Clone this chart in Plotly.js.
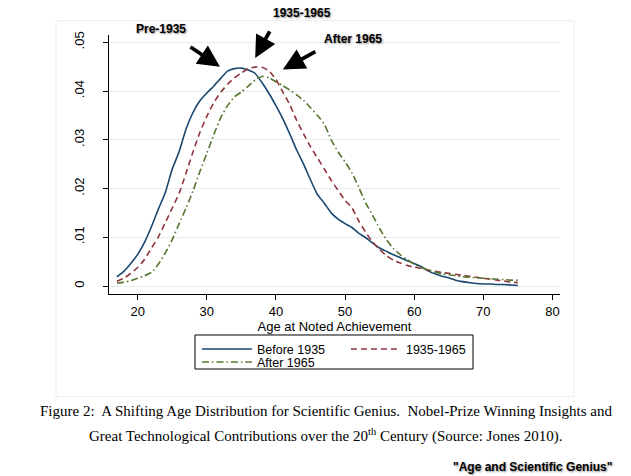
<!DOCTYPE html>
<html>
<head>
<meta charset="utf-8">
<script src="https://cdn.plot.ly/plotly-3.0.1.min.js"></script>
<style>
  html, body { margin: 0; padding: 0; background: #fff; }
  #chart { width: 631px; height: 476px; }
</style>
</head>
<body>
<div id="chart"></div>
<script>
    // --- DATA: density of age at noted achievement, by period ---
    const ages = [17, 18, 19, 20, 21, 22, 23, 24, 25, 26, 27, 28, 29, 30, 31, 32, 33, 34, 35, 36,
                  37, 38, 39, 40, 41, 42, 43, 44, 45, 46, 47, 48, 49, 50, 51, 52, 53, 54, 55, 56,
                  57, 58, 59, 60, 61, 62, 63, 64, 65, 66, 67, 68, 69, 70, 71, 72, 73, 74, 75];

    const before1935 = [0.0019, 0.0030, 0.0046, 0.0065, 0.0090, 0.0122, 0.0158, 0.0192, 0.0240, 0.0276,
                        0.0322, 0.0356, 0.0380, 0.0396, 0.0410, 0.0426, 0.0441, 0.0446, 0.0447, 0.0443,
                        0.0436, 0.0417, 0.0395, 0.0370, 0.0343, 0.0312, 0.0279, 0.0250, 0.0218, 0.0188,
                        0.0170, 0.0150, 0.0137, 0.0128, 0.0120, 0.0108, 0.0099, 0.0088, 0.0078, 0.0071,
                        0.0064, 0.0058, 0.0052, 0.0046, 0.0040, 0.0031, 0.0025, 0.0020, 0.0017, 0.0012,
                        0.0009, 0.0007, 0.0005, 0.0004, 0.0004, 0.0003, 0.0003, 0.0002, 0.0001];

    const from1935to1965 = [0.0010, 0.0016, 0.0026, 0.0038, 0.0055, 0.0078, 0.0101, 0.0130, 0.0160, 0.0190,
                            0.0232, 0.0275, 0.0315, 0.0348, 0.0376, 0.0397, 0.0414, 0.0427, 0.0437, 0.0446,
                            0.0449, 0.0449, 0.0441, 0.0424, 0.0398, 0.0372, 0.0340, 0.0312, 0.0286, 0.0263,
                            0.0240, 0.0217, 0.0196, 0.0176, 0.0160, 0.0133, 0.0110, 0.0090, 0.0075, 0.0062,
                            0.0053, 0.0047, 0.0042, 0.0039, 0.0036, 0.0033, 0.0030, 0.0028, 0.0026, 0.0024,
                            0.0022, 0.0020, 0.0018, 0.0016, 0.0014, 0.0012, 0.0010, 0.0008, 0.0007];

    const after1965 = [0.0006, 0.0008, 0.0011, 0.0016, 0.0021, 0.0028, 0.0045, 0.0068, 0.0095, 0.0128,
                       0.0160, 0.0195, 0.0235, 0.0272, 0.0310, 0.0345, 0.0370, 0.0388, 0.0398, 0.0410,
                       0.0423, 0.0430, 0.0427, 0.0419, 0.0411, 0.0402, 0.0392, 0.0381, 0.0366, 0.0350,
                       0.0332, 0.0300, 0.0275, 0.0255, 0.0232, 0.0202, 0.0170, 0.0145, 0.0118, 0.0095,
                       0.0077, 0.0064, 0.0054, 0.0045, 0.0038, 0.0033, 0.0029, 0.0025, 0.0023, 0.0021,
                       0.0019, 0.0018, 0.0017, 0.0016, 0.0015, 0.0014, 0.0013, 0.0012, 0.0012];

    const xTicks = [20, 30, 40, 50, 60, 70, 80];
    const yTicks = [0, 0.01, 0.02, 0.03, 0.04, 0.05];
    const yTickText = ['0', '.01', '.02', '.03', '.04', '.05'];

    const SANS = 'Liberation Sans, Arial, Helvetica, sans-serif';
    const SERIF = 'Liberation Serif, Times New Roman, serif';
    const SHADOW = '1px 1px 2px rgba(0,0,0,0.45)';

    // --- TRACES ---
    const traces = [
        {
            type: 'scatter', mode: 'lines', name: 'Before 1935',
            x: ages, y: before1935,
            line: { color: '#1a476f', width: 1.6, shape: 'spline', smoothing: 0.6 },
            legend: 'legend', hoverinfo: 'skip'
        },
        {
            type: 'scatter', mode: 'lines', name: '1935-1965',
            x: ages, y: from1935to1965,
            line: { color: '#90353b', width: 1.6, dash: '6px,4px', shape: 'spline', smoothing: 0.6 },
            legend: 'legend', hoverinfo: 'skip'
        },
        {
            type: 'scatter', mode: 'lines', name: 'After 1965',
            x: ages, y: after1965,
            line: { color: '#55752f', width: 1.6, dash: '7px,3px,1.5px,3px', shape: 'spline', smoothing: 0.6 },
            legend: 'legend2', hoverinfo: 'skip'
        }
    ];

    // --- ANNOTATIONS: period labels, arrows, caption ---
    function label(text, x, y) {
        return {
            xref: 'paper', yref: 'paper', x: x, y: y, text: '<b>' + text + '</b>',
            showarrow: false, xanchor: 'center', yanchor: 'middle',
            font: { family: SANS, size: 12, color: '#000', shadow: SHADOW }
        };
    }
    function arrow(x, y, ax, ay) {
        return {
            xref: 'x', yref: 'y', x: x, y: y, text: ' ', showarrow: true,
            ax: ax, ay: ay, arrowhead: 2, arrowsize: 1.15, arrowwidth: 3.8,
            arrowcolor: '#000', standoff: 0, startstandoff: 0
        };
    }

    const annotations = [
        label('Pre-1935', 0.116, 1.022),
        label('1935-1965', 0.428, 1.086),
        label('After 1965', 0.541, 0.983),
        arrow(31.9, 0.0450, -33, -22),
        arrow(37.0, 0.0468, 18, -33),
        arrow(41.0, 0.0444, 36, -20),
        {
            xref: 'paper', yref: 'paper', x: 0.481, y: -0.452, showarrow: false,
            xanchor: 'center', yanchor: 'middle',
            text: 'Figure 2:\u00a0 A Shifting Age Distribution for Scientific Genius.\u00a0 Nobel-Prize Winning Insights and',
            font: { family: SERIF, size: 15, color: '#000' }
        },
        {
            xref: 'paper', yref: 'paper', x: 0.481, y: -0.548, showarrow: false,
            xanchor: 'center', yanchor: 'middle',
            text: 'Great Technological Contributions over the 20<sup>th</sup> Century (Source: Jones 2010).',
            font: { family: SERIF, size: 15, color: '#000' }
        },
        {
            xref: 'paper', yref: 'paper', x: 1.12, y: -0.668, showarrow: false,
            xanchor: 'right', yanchor: 'middle',
            text: '<b>"Age and Scientific Genius"</b>',
            font: { family: SANS, size: 12, color: '#000', shadow: SHADOW }
        }
    ];

    const layout = {
        width: 631,
        height: 476,
        margin: { l: 109, r: 71, t: 35, b: 182 },
        paper_bgcolor: '#ffffff',
        plot_bgcolor: '#ffffff',
        font: { family: SANS, size: 13, color: '#000' },
        xaxis: {
            range: [15.85, 81.1],
            tickvals: xTicks,
            ticks: 'outside', ticklen: 5, tickcolor: '#000',
            showline: true, linecolor: '#000', linewidth: 1,
            showgrid: false, zeroline: false,
            tickfont: { family: SANS, size: 13, color: '#000' },
            title: { text: 'Age at Noted Achievement', standoff: 4, font: { family: SANS, size: 13, color: '#000' } }
        },
        yaxis: {
            range: [-0.00164, 0.0515],
            tickvals: yTicks,
            ticktext: yTickText,
            tickangle: -90,
            ticks: 'outside', ticklen: 5, tickcolor: '#000',
            ticklabelstandoff: 14,
            showline: true, linecolor: '#000', linewidth: 1,
            showgrid: true, gridcolor: '#e6eef0', gridwidth: 1,
            zeroline: false,
            tickfont: { family: SANS, size: 13, color: '#000' }
        },
        showlegend: true,
        legend: {
            orientation: 'h', x: 0.195, y: -0.156, xanchor: 'left', yanchor: 'top',
            entrywidth: 84, itemwidth: 50, bgcolor: 'rgba(0,0,0,0)', borderwidth: 0,
            font: { family: SANS, size: 12.5, color: '#000' }
        },
        legend2: {
            orientation: 'h', x: 0.195, y: -0.206, xanchor: 'left', yanchor: 'top',
            itemwidth: 50, bgcolor: 'rgba(0,0,0,0)', borderwidth: 0,
            font: { family: SANS, size: 12.5, color: '#000' }
        },
        shapes: [
            // legend frame
            { type: 'rect', xref: 'paper', yref: 'paper', x0: 0.1907, x1: 0.8071, y0: -0.2896, y1: -0.1583,
              line: { color: '#000', width: 1 }, fillcolor: 'rgba(0,0,0,0)' },
            // faint graph-region outline
            { type: 'rect', xref: 'paper', yref: 'paper', x0: -0.1175, x1: 1.031, y0: -0.3965, y1: 1.0552,
              line: { color: '#ececec', width: 1 }, fillcolor: 'rgba(0,0,0,0)', layer: 'below' }
        ],
        annotations: annotations
    };

    Plotly.newPlot('chart', traces, layout, { displayModeBar: false, staticPlot: true });
</script>
</body>
</html>
